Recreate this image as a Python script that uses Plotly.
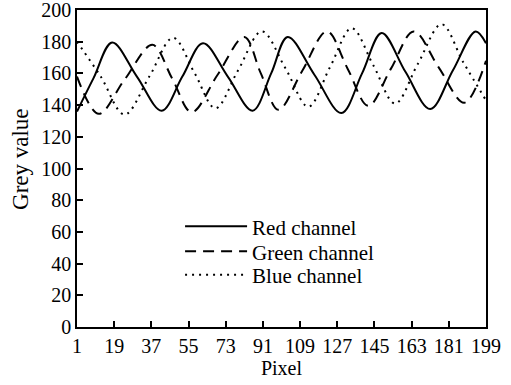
import plotly.graph_objects as go

# Data
red_x = [1, 9, 18, 30, 42, 52, 62, 74, 86, 95, 103, 116, 129, 139, 148.5, 160, 172, 183, 194, 199]
red_y = [136, 157, 179.5, 158, 136.5, 158, 179, 158, 136.5, 160, 183, 159, 135, 160, 185.5, 161, 137.5, 162, 186.5, 179]

green_x = [1, 11.5, 24, 37.5, 47, 56.5, 69, 82, 90, 98.5, 110, 122, 132, 142, 153, 164, 176, 188.5, 199]
green_y = [158, 134.5, 156, 178, 157, 135.5, 159, 183, 160, 137, 161.5, 186.5, 163, 139.5, 163, 186.5, 164, 141.5, 168]

blue_x = [1, 12.5, 24, 36, 47.5, 58, 68, 79, 90.5, 102, 113, 123.5, 134, 144.5, 155, 166, 177.5, 188, 199]
blue_y = [180, 158, 134, 158, 182.5, 160, 138, 162, 186.5, 163, 139, 164, 188.5, 165, 141, 166, 191, 167, 143]

x_ticks = [1, 19, 37, 55, 73, 91, 109, 127, 145, 163, 181, 199]
y_ticks = [0, 20, 40, 60, 80, 100, 120, 140, 160, 180, 200]

FONT = "Liberation Serif"

fig = go.Figure()
fig.add_trace(go.Scatter(x=red_x, y=red_y, mode="lines", name="Red channel", legend="legend",
                         line=dict(color="black", width=2, shape="spline", smoothing=1.0)))
fig.add_trace(go.Scatter(x=green_x, y=green_y, mode="lines", name="Green channel", legend="legend2",
                         line=dict(color="black", width=2, dash="11px,7px", shape="spline", smoothing=1.0)))
fig.add_trace(go.Scatter(x=blue_x, y=blue_y, mode="lines", name="Blue channel", legend="legend3",
                         line=dict(color="black", width=2, dash="2px,5px", shape="spline", smoothing=1.0)))

def leg(y):
    return dict(x=0.252, y=y, xanchor="left", yanchor="middle", itemwidth=62,
                bgcolor="rgba(0,0,0,0)", font=dict(family=FONT, size=21))

fig.update_layout(
    width=511, height=385,
    margin=dict(l=77, r=25, t=10, b=58, autoexpand=False),
    paper_bgcolor="white", plot_bgcolor="white",
    font=dict(family=FONT, size=20, color="black"),
    showlegend=True,
    legend=leg(0.3164), legend2=leg(0.2375), legend3=leg(0.164),
    annotations=[dict(text="Grey value", xref="paper", yref="paper",
                      x=-0.137, y=0.53, textangle=-90, showarrow=False,
                      font=dict(family=FONT, size=23), xanchor="center", yanchor="middle")],
)
fig.update_xaxes(range=[1, 199], tickvals=x_ticks, ticktext=[str(v) for v in x_ticks],
                 ticks="inside", ticklen=6, tickwidth=1.5, tickcolor="black",
                 showline=True, linecolor="black", linewidth=1.5, mirror=True,
                 showgrid=False, zeroline=False, automargin=False, ticklabeloverflow="allow",
                 title=dict(text="Pixel", font=dict(family=FONT, size=20), standoff=4))
fig.update_yaxes(range=[0, 200], tickvals=y_ticks,
                 ticks="inside", ticklen=6, tickwidth=1.5, tickcolor="black",
                 showline=True, linecolor="black", linewidth=1.5, mirror=True,
                 showgrid=False, zeroline=False, automargin=False, ticklabeloverflow="allow")

fig.write_html("out.html", config={"displayModeBar": False},
               post_script="document.body.style.margin='0';document.body.style.overflow='hidden';")
